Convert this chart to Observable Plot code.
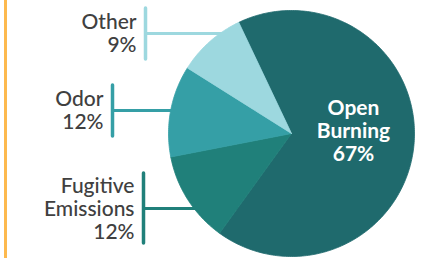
<!DOCTYPE html>
<html><head><meta charset="utf-8">
<script src="https://cdn.jsdelivr.net/npm/d3@7"></script>
<script src="https://cdn.jsdelivr.net/npm/@observablehq/plot@0.6"></script>
<style>
body{margin:0;background:#fff;}
#chart{width:432px;height:258px;overflow:hidden;}
svg{display:block;}
</style></head><body><div id="chart"></div>
<script>
// ---- data ----
const categories = ["Open Burning", "Fugitive Emissions", "Odor", "Other"];
const percents = [67, 12, 12, 9];
const labelText = ["Open\nBurning\n67%", "Fugitive\nEmissions\n12%", "Odor\n12%", "Other\n9%"];
const colors = ["#1f6a6d", "#20807a", "#359fa6", "#9dd8df"];

// ---- layout (pixel space) ----
const W = 432, H = 258;
const cx = 291, cy = 133, R = 123;
const startDeg = -25.4;
// bracket layout for the outside labels (index into categories)
const brackets = [
  {i: 1, x: 143, y: 208, y1: 173, y2: 243},
  {i: 2, x: 112, y: 110, y1: 85, y2: 136},
  {i: 3, x: 145, y: 33, y1: 8, y2: 59}
];

const pie = d3.pie().sort(null)
  .startAngle(startDeg * Math.PI / 180)
  .endAngle(startDeg * Math.PI / 180 + 2 * Math.PI)(percents);

const slices = pie.map((p, i) => {
  const pts = [{x: cx, y: cy}];
  const n = Math.max(8, Math.ceil((p.endAngle - p.startAngle) / (Math.PI / 180)));
  for (let k = 0; k <= n; k++) {
    const a = p.startAngle + (p.endAngle - p.startAngle) * k / n;
    pts.push({x: cx + R * Math.sin(a), y: cy - R * Math.cos(a)});
  }
  pts.push({x: cx, y: cy});
  return {pts, color: colors[i]};
});

const marks = [
  Plot.ruleX([0], {x: 5, y1: 0, y2: H, stroke: "#fdb94e", strokeWidth: 3})
];
for (const b of brackets) {
  const c = colors[b.i];
  marks.push(Plot.ruleY([b], {y: "y", x1: "x", x2: cx, stroke: c, strokeWidth: 3}));
  marks.push(Plot.ruleX([b], {x: "x", y1: "y1", y2: "y2", stroke: c, strokeWidth: 3.5, strokeLinecap: "round"}));
  marks.push(Plot.text([b], {x: "x", y: "y", text: () => labelText[b.i], textAnchor: "end", dx: -9,
    lineAnchor: "middle", lineHeight: 1.1, fontSize: 21, fontWeight: 500, fill: "#404040", fontFamily: "Lato"}));
}
for (const s of slices) {
  marks.push(Plot.line(s.pts, {x: "x", y: "y", fill: s.color, stroke: s.color, strokeWidth: 0.8}));
}
marks.push(Plot.text([0], {x: () => 353, y: () => 130, text: () => labelText[0], lineAnchor: "middle",
  lineHeight: 1.1, fontSize: 21, fontWeight: "bold", fill: "white", fontFamily: "Lato"}));

const chart = Plot.plot({
  width: W, height: H,
  margin: 0,
  x: {domain: [0, W], range: [0, W], axis: null},
  y: {domain: [0, H], range: [0, H], axis: null},
  style: {background: "white", overflow: "visible"},
  marks
});
document.getElementById("chart").append(chart);
</script>
</body></html>
